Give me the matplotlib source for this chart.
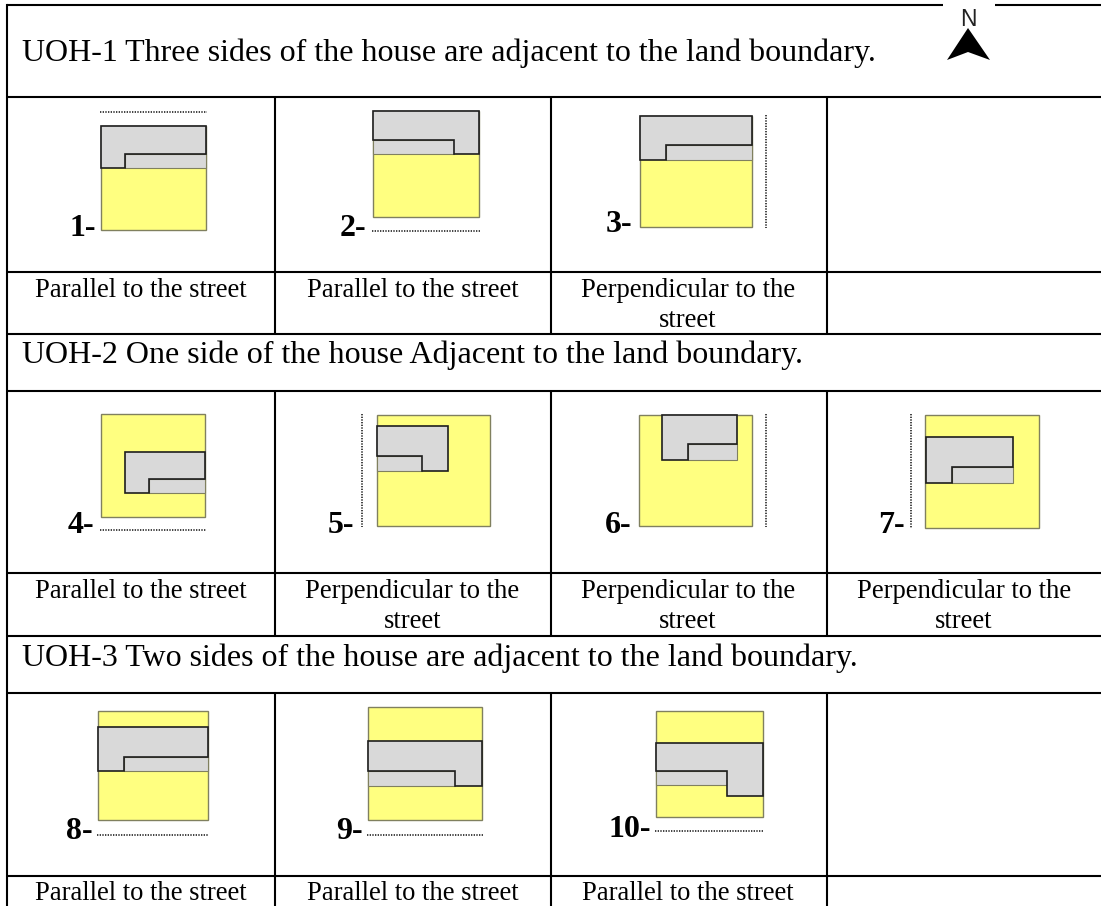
#!/usr/bin/python3

import matplotlib
matplotlib.use('Agg')
import matplotlib.pyplot as plt
from matplotlib.patches import Polygon, Rectangle

plt.rcParams['font.family'] = ['Liberation Serif', 'DejaVu Serif']

# everything is in reference pixels
WIDTH = 1101
HEIGHT = 906

YELLOW = '#ffff80'
GRAY = '#d9d9d9'
PLOT_EDGE = '#80805f'
DARK = '#1e1e1e'

column_lines = [6.5, 275, 551, 826.5]
row_lines = [5, 97, 271.5, 334, 390.5, 573, 635.5, 692.5, 876]

titles = [
    'UOH-1 Three sides of the house are adjacent to the land boundary.',
    'UOH-2 One side of the house Adjacent to the land boundary.',
    'UOH-3 Two sides of the house are adjacent to the land boundary.',
]
title_baselines = [61, 363, 666]

caption_centers = [141, 412.5, 688, 964]
parallel = 'Parallel to the street'
perpendicular = 'Perpendicular to the\nstreet'
captions = [
    (297, [parallel, parallel, perpendicular, '']),
    (598, [parallel, perpendicular, perpendicular, perpendicular]),
    (899.5, [parallel, parallel, parallel, '']),
]

# plot rectangles: left, right, top, bottom
plots = [
    (101, 205.7, 126, 230),
    (373, 479.3, 111.3, 217.3),
    (640.3, 752, 115.7, 227.3),
    (101, 205, 414.3, 516.7),
    (376.8, 489.6, 415, 526.3),
    (638.9, 751.7, 415, 526.3),
    (925.3, 1038.8, 415, 527.7),
    (97.9, 207.5, 711.3, 820.3),
    (368.2, 481.8, 706.7, 819.7),
    (655.8, 762.9, 711.3, 817.3),
]

# house strip (the light band under the roofed part): left, right, top, bottom
strips = [
    (125, 205.7, 154.3, 168),
    (373, 454.3, 139.7, 153.7),
    (666.3, 752, 145.3, 160.3),
    (149.3, 205, 479, 492.7),
    (376.8, 422, 455.7, 470.7),
    (687.7, 736.6, 444.3, 459.7),
    (952.3, 1012.8, 467, 482.7),
    (123.6, 207.5, 756.7, 771.3),
    (368.2, 455.4, 771, 785.7),
    (655.8, 727.1, 771.3, 785.3),
]

# house outlines
houses = [
    [(101, 126), (205.7, 126), (205.7, 154.3), (125, 154.3), (125, 168), (101, 168)],
    [(373, 111.3), (479.3, 111.3), (479.3, 153.7), (454.3, 153.7), (454.3, 139.7), (373, 139.7)],
    [(640.3, 115.7), (752, 115.7), (752, 145.3), (666.3, 145.3), (666.3, 160.3), (640.3, 160.3)],
    [(125, 451.7), (205, 451.7), (205, 479), (149.3, 479), (149.3, 492.7), (125, 492.7)],
    [(376.8, 425.7), (448.2, 425.7), (448.2, 470.7), (422, 470.7), (422, 455.7), (376.8, 455.7)],
    [(661.7, 414.7), (736.6, 414.7), (736.6, 444.3), (687.7, 444.3), (687.7, 459.7), (661.7, 459.7)],
    [(925.6, 437.3), (1012.8, 437.3), (1012.8, 467), (952.3, 467), (952.3, 482.7), (925.6, 482.7)],
    [(97.9, 727.3), (207.5, 727.3), (207.5, 756.7), (123.6, 756.7), (123.6, 771.3), (97.9, 771.3)],
    [(368.2, 740.7), (481.8, 740.7), (481.8, 785.7), (455.4, 785.7), (455.4, 771), (368.2, 771)],
    [(655.8, 743), (762.9, 743), (762.9, 796), (727.1, 796), (727.1, 771.3), (655.8, 771.3)],
]

# street lines: x0, y0, x1, y1
streets = [
    (99.6, 112, 207, 112),
    (372, 231, 480.4, 231),
    (766, 115, 766, 228),
    (100, 530.3, 205.7, 530.3),
    (362, 413.7, 362, 527.3),
    (766, 413.7, 766, 527.3),
    (910.9, 413.7, 910.9, 528.3),
    (97, 835, 208.6, 835),
    (367, 835, 482.9, 835),
    (655, 831, 764, 831),
]

# number labels: text, right edge, baseline
labels = [
    ('1-', 96.4, 236),
    ('2-', 366, 236),
    ('3-', 632, 231.7),
    ('4-', 94, 533),
    ('5-', 354.3, 533),
    ('6-', 631.9, 533),
    ('7-', 904.5, 533),
    ('8-', 92.9, 839),
    ('9-', 362.5, 839),
    ('10-', 650.8, 836.7),
]

north_arrow = [(968, 28), (990, 60), (968, 52), (947, 60)]

figure = plt.figure(figsize=(WIDTH / 100, HEIGHT / 100), dpi=100)
axes = figure.add_axes([0, 0, 1, 1])
axes.set_xlim(0, WIDTH)
axes.set_ylim(HEIGHT, 0)
axes.axis('off')

# table rules, no right border: the lines run off the image edge
for y in row_lines:
    axes.plot([column_lines[0], WIDTH], [y, y], color='black', lw=1.5, solid_capstyle='butt')
axes.plot([column_lines[0], column_lines[0]], [row_lines[0], HEIGHT], color='black', lw=1.5)
row_spans = [(97, 271.5), (390.5, 573), (692.5, 876), (271.5, 334), (573, 635.5), (876, HEIGHT)]
for x in column_lines[1:]:
    for top, bottom in row_spans:
        axes.plot([x, x], [top, bottom], color='black', lw=1.5, solid_capstyle='butt')

for text, baseline in zip(titles, title_baselines):
    axes.text(22, baseline, text, fontsize=23, color='black', ha='left', va='baseline')

for baseline, row in captions:
    for center, caption in zip(caption_centers, row):
        if not caption:
            continue
        for i, line in enumerate(caption.split('\n')):
            axes.text(center, baseline + i * 30, line, fontsize=19.2, color='black', ha='center', va='baseline')

for (left, right, top, bottom), strip, house in zip(plots, strips, houses):
    axes.add_patch(Rectangle((left, top), right - left, bottom - top, facecolor=YELLOW, edgecolor=PLOT_EDGE, lw=1))
    strip_left, strip_right, strip_top, strip_bottom = strip
    axes.add_patch(Rectangle((strip_left, strip_top), strip_right - strip_left, strip_bottom - strip_top,
                             facecolor=GRAY, edgecolor=PLOT_EDGE, lw=0.8))
    axes.add_patch(Polygon(house, closed=True, facecolor=GRAY, edgecolor=DARK, lw=1.2, joinstyle='miter'))

for x0, y0, x1, y1 in streets:
    axes.plot([x0, x1], [y0, y1], color='#222222', lw=1.2, linestyle=(0, (0.8, 0.8)))

for text, right, baseline in labels:
    axes.text(right, baseline, text, fontsize=23, fontweight='bold', color='black', ha='right', va='baseline')

# north arrow sits on a white patch that cuts the top border
axes.add_patch(Rectangle((943, 3), 52, 5, facecolor='white', edgecolor='none', zorder=3))
axes.add_patch(Polygon(north_arrow, closed=True, facecolor='black', edgecolor='none', zorder=4))
axes.text(968.5, 26.5, 'N', fontsize=16.5, family=['Liberation Sans Narrow', 'Liberation Sans'], color='#222222',
          ha='center', va='baseline', zorder=4)

figure.savefig('out.png', dpi=100)
